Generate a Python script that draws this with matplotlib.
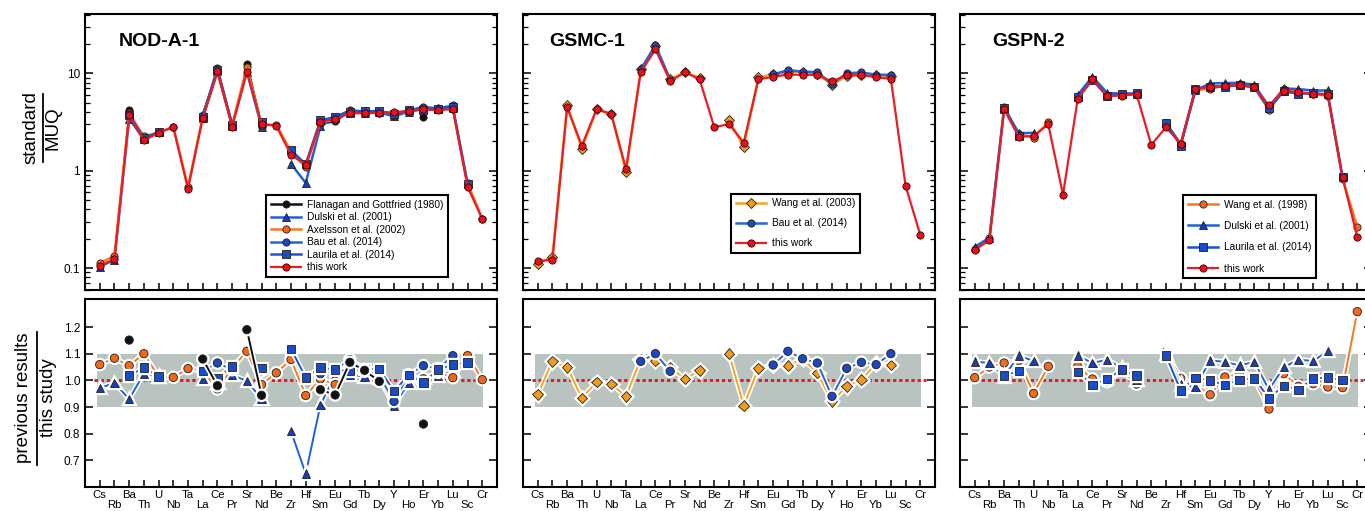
import numpy as np
import matplotlib
matplotlib.use('Agg')
import matplotlib.pyplot as plt
import matplotlib.patheffects as pe
from matplotlib.lines import Line2D
from matplotlib.ticker import LogLocator, NullFormatter, FixedLocator

plt.rcParams['font.family'] = ['Liberation Sans', 'DejaVu Sans']

nan = np.nan

elements = ['Cs', 'Rb', 'Ba', 'Th', 'U', 'Nb', 'Ta', 'La', 'Ce', 'Pr', 'Sr', 'Nd', 'Be', 'Zr',
            'Hf', 'Sm', 'Eu', 'Gd', 'Tb', 'Dy', 'Y', 'Ho', 'Er', 'Yb', 'Lu', 'Sc', 'Cr']

# --- NOD-A-1 : standard / MUQ for this work, ratios previous / this study
nod_this = [0.106, 0.123, 3.68, 2.04, 2.44, 2.79, 0.65, 3.45, 10.6, 2.82, 10.4, 3.0, 2.88, 1.45,
            1.15, 3.14, 3.40, 3.86, 3.89, 3.92, 3.98, 4.07, 4.27, 4.17, 4.27, 0.68, 0.32]
nod_flanagan = [nan, nan, 1.151, nan, nan, nan, nan, 1.08, 0.98, nan, 1.19, 0.944, nan, nan,
                nan, 0.965, 0.945, 1.0675, 1.0375, 0.996, nan, nan, 0.836, nan, nan, nan, nan]
nod_dulski = [0.971, 0.99, 0.93, 1.025, 1.014, nan, nan, 1.005, 0.99, 1.02, 0.9975, 0.93, nan, 0.809,
              0.65, 0.9075, 1.021, 1.02, 1.015, 1.009, 0.905, 0.99, 1.009, 1.0175, 1.036, nan, nan]
nod_axelsson = [1.059, 1.083, 1.055, 1.10, 1.014, 1.011, 1.044, 1.036, 0.968, 1.046, 1.109, 0.984, 1.028, 1.078,
                0.943, 1.005, 0.984, 1.046, 1.034, 1.03, 0.9375, 1.0125, 1.006, 1.03, 1.01, 1.0925, 1.0025]
nod_bau = [nan, nan, nan, nan, nan, nan, nan, 1.036, 1.065, 1.04, nan, 1.036, nan, nan,
           nan, 1.025, 1.04, 1.0775, 1.04, 1.0175, 0.921, 1.021, 1.055, 1.044, 1.0925, nan, nan]
nod_laurila = [nan, nan, 1.0175, 1.0475, 1.014, nan, nan, 1.036, 1.0075, 1.0525, nan, 1.046, nan, 1.1175,
               1.011, 1.0475, 1.04, 1.034, 1.0425, 1.0425, 0.959, 1.021, 0.9925, 1.04, 1.059, 1.0675, nan]

# --- GSMC-1
gsmc_this = [0.117, 0.122, 4.45, 1.80, 4.27, 3.83, 1.036, 10.2, 17.6, 8.28, 10.2, 8.67, 2.79, 3.0,
             1.94, 8.67, 9.17, 9.69, 9.61, 9.61, 8.22, 9.54, 9.54, 9.1, 8.75, 0.70, 0.218]
gsmc_wang = [0.9475, 1.071, 1.049, 0.934, 0.994, 0.986, 0.94, 1.08, 1.074, 1.049, 1.005, 1.0375, nan, 1.10,
             0.905, 1.045, 1.0575, 1.055, 1.081, 1.0275, 0.921, 0.9775, 1.0025, 1.0625, 1.0575, nan, nan]
gsmc_bau = [nan, nan, nan, nan, nan, nan, nan, 1.071, 1.10, 1.034, nan, nan, nan, nan,
            nan, nan, 1.0575, 1.109, 1.081, 1.065, 0.94, 1.045, 1.0675, 1.059, 1.10, nan, nan]

# --- GSPN-2
gspn_this = [0.154, 0.192, 4.27, 2.21, 2.28, 2.98, 0.565, 5.46, 8.67, 5.81, 5.9, 6.09, 1.84, 2.79,
             1.88, 6.85, 7.29, 7.41, 7.53, 7.13, 4.66, 6.64, 6.38, 6.18, 5.99, 0.851, 0.208]
gspn_wang = [1.01, 1.05, 1.065, 1.074, 0.951, 1.0525, nan, 1.0525, 1.005, 0.995, 1.0375, 0.986, nan, 1.106,
             1.0075, 0.984, 0.946, 1.0125, 1.025, 1.005, 0.8925, 1.025, 0.9775, 0.9875, 0.975, 0.9725, 1.2575]
gspn_dulski = [1.07, 1.065, 1.015, 1.0925, 1.0725, nan, nan, 1.0925, 1.065, 1.0775, 1.046, 1.0025, nan, 1.1,
               0.984, 0.975, 1.075, 1.069, 1.056, 1.069, 0.965, 1.049, 1.0775, 1.0725, 1.11, nan, nan]
gspn_laurila = [nan, nan, 1.0175, 1.035, nan, nan, nan, 1.031, 0.9825, 1.005, 1.04, 1.0175, nan, 1.0925,
                0.9625, 1.009, 1.0, 0.9825, 1.0025, 1.0075, 0.9325, 0.98, 0.965, 1.0075, 1.01, 1.001, nan]

# styles: label, line colour, marker face colour, marker
FLANAGAN = ('Flanagan and Gottfried (1980)', '#111111', '#111111', 'o')
DULSKI = ('Dulski et al. (2001)', '#1f5fe0', '#1a3fb0', '^')
AXELSSON = ('Axelsson et al. (2002)', '#f47a20', '#f06818', 'o')
BAU = ('Bau et al. (2014)', '#2a62d8', '#1c48c0', 'o')
LAURILA = ('Laurila et al. (2014)', '#1a55d0', '#1a4cc8', 's')
WANG03 = ('Wang et al. (2003)', '#f5a623', '#f29a1a', 'D')
WANG98 = ('Wang et al. (1998)', '#f47a20', '#f06a20', 'o')

W, H = 1365, 511


def rect(l, r, t, b):
    return [l / W, 1 - b / H, (r - l) / W, (b - t) / H]


def draw_panel(ax_top, ax_bot, this_work, series, bottom_order, title, title_x,
               leg_anchor, leg_spacing, show_labels):
    x = np.arange(1, len(elements) + 1)
    this = np.array(this_work)

    handles = []
    for (label, lc, fc, mk), ratio in series:
        ms = 4.6 if mk == 'D' else 5.2
        h, = ax_top.plot(x, np.array(ratio) * this, color=lc, lw=1.8, marker=mk, ms=ms,
                         mfc=fc, mec='#202020', mew=0.6, label=label)
        handles.append(h)
    h, = ax_top.plot(x, this, color='#ec1c24', lw=1.6, marker='o', ms=5.2,
                     mfc='#e8101a', mec='#3a0000', mew=0.6, label='this work')
    handles.append(h)

    ax_top.set_yscale('log')
    ax_top.set_ylim(0.0595, 40.5)
    ax_top.set_xlim(0, 28)
    ax_top.set_xticks(x)
    ax_top.set_xticklabels([])
    ax_top.yaxis.set_major_locator(FixedLocator([0.1, 1, 10]))
    ax_top.yaxis.set_minor_locator(LogLocator(base=10, subs=np.arange(2, 10)))
    ax_top.yaxis.set_minor_formatter(NullFormatter())
    ax_top.tick_params(axis='y', which='major', direction='in', length=6, width=1.1,
                       left=True, right=True, labelsize=8.5)
    ax_top.tick_params(axis='y', which='minor', direction='in', length=3.5, width=0.9,
                       left=True, right=True)
    ax_top.tick_params(axis='x', direction='in', length=5, width=1.1)
    if show_labels:
        ax_top.set_yticklabels(['0.1', '1', '10'])
    else:
        ax_top.set_yticklabels([])
    ax_top.text(title_x, 0.9, title, transform=ax_top.transAxes, fontsize=14,
                fontweight='bold', ha='left', va='center')

    leg = ax_top.legend(handles=handles, loc='lower right', bbox_to_anchor=leg_anchor,
                        borderaxespad=0, fontsize=7.3, handlelength=3.0, handletextpad=0.6,
                        borderpad=0.45, labelspacing=leg_spacing, fancybox=False,
                        framealpha=1, edgecolor='black')
    leg.get_frame().set_linewidth(1.5)

    # lower panel: ratios
    ax_bot.axhspan(0.9, 1.1, xmin=0.8 / 28, xmax=27.05 / 28, color='#b9c3c0', lw=0, zorder=0)
    ax_bot.hlines(1.0, 0.6, 27.4, colors='#e8101a', linestyles=(0, (1.2, 1.0)), lw=2, zorder=1)
    halo = [pe.Stroke(linewidth=3.8, foreground='white'), pe.Normal()]
    for i in bottom_order:
        (label, lc, fc, mk), ratio = series[i]
        ms = 5.4 if mk == 'D' else 6
        ax_bot.plot(x, ratio, color=lc, lw=1.4, marker=mk, ms=ms, mfc=fc, mec='#202020',
                    mew=0.6, path_effects=halo, zorder=3)
    ax_bot.set_xlim(0, 28)
    ax_bot.set_ylim(0.60, 1.305)
    ax_bot.set_xticks(x)
    ax_bot.set_xticklabels([e if i % 2 == 0 else '\n' + e for i, e in enumerate(elements)],
                           fontsize=8.2, linespacing=0.95)
    ax_bot.set_yticks([0.7, 0.8, 0.9, 1.0, 1.1, 1.2])
    if show_labels:
        ax_bot.set_yticklabels(['0.7', '0.8', '0.9', '1.0', '1.1', '1.2'])
    else:
        ax_bot.set_yticklabels([])
    ax_bot.tick_params(axis='y', direction='in', length=6, width=1.1, left=True, right=True,
                       labelsize=8.5)
    ax_bot.tick_params(axis='x', direction='in', length=5, width=1.1, pad=2.5)

    for ax in (ax_top, ax_bot):
        for sp in ax.spines.values():
            sp.set_linewidth(1.5)


fig = plt.figure(figsize=(W / 100, H / 100), dpi=100)

lefts = [85, 523, 960]
panels = [
    (nod_this, [(FLANAGAN, nod_flanagan), (DULSKI, nod_dulski), (AXELSSON, nod_axelsson),
                (BAU, nod_bau), (LAURILA, nod_laurila)], [1, 2, 3, 4, 0],
     'NOD-A-1', 0.083, (0.881, 0.047), 0.25, True),
    (gsmc_this, [(WANG03, gsmc_wang), (BAU, gsmc_bau)], [0, 1],
     'GSMC-1', 0.063, (0.818, 0.134), 1.0, False),
    (gspn_this, [(WANG98, gspn_wang), (DULSKI, gspn_dulski), (LAURILA, gspn_laurila)], [0, 1, 2],
     'GSPN-2', 0.078, (0.864, 0.043), 1.12, False),
]

for left, p in zip(lefts, panels):
    ax_top = fig.add_axes(rect(left, left + 412, 14, 290))
    ax_bot = fig.add_axes(rect(left, left + 412, 299, 487))
    draw_panel(ax_top, ax_bot, *p)

# fraction-style y labels
fig.text(31 / W, 1 - 128 / H, 'standard', rotation=90, fontsize=13.5, ha='center', va='center')
fig.text(53 / W, 1 - 128 / H, 'MUQ', rotation=90, fontsize=13.5, ha='center', va='center')
fig.add_artist(Line2D([43 / W, 43 / W], [1 - 94 / H, 1 - 162 / H], transform=fig.transFigure,
                      color='black', lw=1.3))
fig.text(24 / W, 1 - 398 / H, 'previous results', rotation=90, fontsize=13.5, ha='center', va='center')
fig.text(49 / W, 1 - 398 / H, 'this study', rotation=90, fontsize=13.5, ha='center', va='center')
fig.add_artist(Line2D([37 / W, 37 / W], [1 - 332 / H, 1 - 465 / H], transform=fig.transFigure,
                      color='black', lw=1.3))

fig.savefig('out.png', dpi=100)
